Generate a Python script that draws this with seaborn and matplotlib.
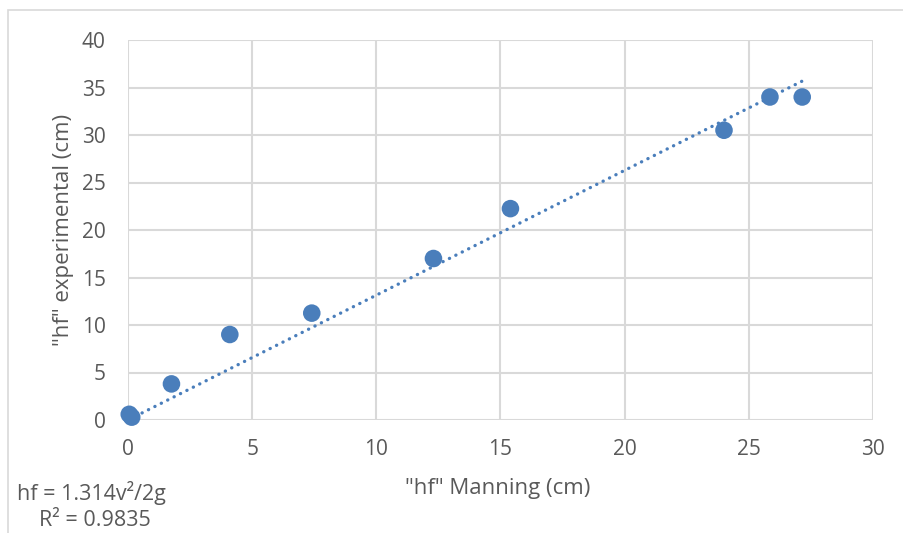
import numpy as np
import pandas as pd
import matplotlib.pyplot as plt
import seaborn as sns
from matplotlib.patches import Rectangle

# Data
hf_manning = [0.05, 0.15, 1.75, 4.1, 7.4, 12.3, 15.4, 24.0, 25.85, 27.15]
hf_experimental = [0.6, 0.3, 3.8, 9.0, 11.25, 17.0, 22.25, 30.5, 34.0, 34.0]
trend_slope = 1.314  # trendline through origin
x_ticks = [0, 5, 10, 15, 20, 25, 30]
y_ticks = [0, 5, 10, 15, 20, 25, 30, 35, 40]

df = pd.DataFrame({"manning": hf_manning, "experimental": hf_experimental})

sns.set_theme(style="whitegrid")
plt.rcParams["font.family"] = ["Open Sans", "DejaVu Sans"]

blue = "#4a7ebb"
grey_text = "#595959"
grid_col = "#d9d9d9"

fig = plt.figure(figsize=(9.04, 5.33), dpi=100)
ax = fig.add_axes([128 / 904, 1 - 420 / 533, 745 / 904, 380 / 533])

# chart border
fig.patches.append(Rectangle((8 / 904, -0.1), 1.2, 1.1 - 10 / 533, transform=fig.transFigure,
                             fill=False, edgecolor=grid_col, linewidth=1.2, zorder=0))

# dotted trendline
xs = np.array([min(hf_manning), max(hf_manning)])
ax.plot(xs, trend_slope * xs, color=blue, linewidth=2.4,
        linestyle=(0, (0.05, 2.1)), dash_capstyle="round", zorder=2)

sns.scatterplot(data=df, x="manning", y="experimental", ax=ax, s=160,
                color=blue, edgecolor="none", zorder=3, clip_on=False)

ax.set_xlim(0, 30)
ax.set_ylim(0, 40)
ax.set_xticks(x_ticks)
ax.set_yticks(y_ticks)
ax.grid(True, color=grid_col, linewidth=1.5)
for s in ax.spines.values():
    s.set_visible(False)
ax.tick_params(axis="both", length=0, labelsize=15, labelcolor=grey_text)
ax.tick_params(axis="x", pad=14)
ax.tick_params(axis="y", pad=16)

ax.set_xlabel('"hf" Manning (cm)', fontsize=16, color=grey_text)
ax.set_ylabel('"hf" experimental (cm)', fontsize=16, color=grey_text)
ax.xaxis.set_label_coords(0.496, -0.152)
ax.yaxis.set_label_coords(-0.073, 0.5)

fig.text(91 / 904, 1 - 493 / 533, "hf = 1.314v²/2g", fontsize=15.5, color=grey_text,
         ha="center", va="center")
fig.text(95 / 904, 1 - 521 / 533, "R² = 0.9835", fontsize=15.5, color=grey_text,
         ha="center", va="center")

fig.savefig("out.png", dpi=100)
